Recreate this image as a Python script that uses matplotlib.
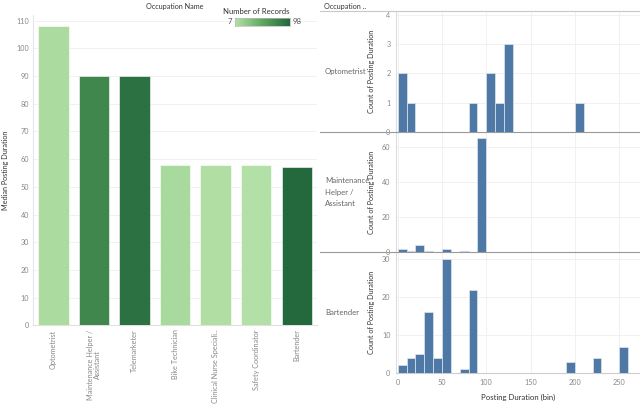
import matplotlib.pyplot as plt
from matplotlib.colors import LinearSegmentedColormap, Normalize
import numpy as np

# left chart: median posting duration by occupation
occupations = ['Optometrist', 'Maintenance Helper /\nAssistant', 'Telemarketer',
               'Bike Technician', 'Clinical Nurse Speciali..', 'Safety Coordinator',
               'Bartender']
median_duration = [108, 90, 90, 58, 58, 58, 57]
num_records = [11, 76, 92, 13, 9, 7, 98]

# right chart: histogram of posting duration (bins of 10)
bin_width = 10
panel_names = ['Optometrist', 'Maintenance\nHelper /\nAssistant', 'Bartender']
opt_bins = [0, 10, 80, 100, 110, 120, 200]
opt_counts = [2, 1, 1, 2, 1, 3, 1]
maint_bins = [0, 10, 20, 30, 50, 70, 90]
maint_counts = [2, 1, 4, 1, 2, 1, 65]
bart_bins = [0, 10, 20, 30, 40, 50, 70, 80, 190, 220, 250]
bart_counts = [2, 4, 5, 16, 4, 30, 1, 22, 3, 4, 7]

W, H = 640, 404
plt.rcParams['font.family'] = ['Lato', 'DejaVu Sans']
fig = plt.figure(figsize=(6.4, 4.04), dpi=100)

def px_axes(x0, y0, x1, y1):
    return fig.add_axes([x0 / W, 1 - y1 / H, (x1 - x0) / W, (y1 - y0) / H])

tick_col = '#888888'
title_col = '#333333'
grid_col = '#efefef'
fs = 5.2

cmap = LinearSegmentedColormap.from_list('tgreen', ['#b3e0a6', '#5fa85f', '#24693d'])
norm = Normalize(7, 98)

# ---- left bar chart
ax = px_axes(33, 15, 317, 325.4)
x = np.arange(len(occupations))
ax.bar(x, median_duration, width=0.75, color=[cmap(norm(v)) for v in num_records],
       edgecolor='white', linewidth=0.4, zorder=3)
ax.set_xlim(-0.5, len(occupations) - 0.5)
ax.set_ylim(0, 112)
ax.set_yticks(range(0, 111, 10))
ax.set_xticks(x)
ax.set_xticklabels(occupations, rotation=90, va='top', ha='center', fontsize=fs,
                   color=tick_col, linespacing=1.1)
ax.tick_params(axis='y', labelsize=fs, colors=tick_col, length=0, pad=3)
ax.tick_params(axis='x', length=0, pad=3)
ax.yaxis.grid(True, color=grid_col, linewidth=0.6, zorder=0)
for s in ['top', 'right']:
    ax.spines[s].set_visible(False)
ax.spines['left'].set_color('#e6e6e6')
ax.spines['bottom'].set_color('#e0e0e0')
ax.set_ylabel('Median Posting Duration', fontsize=fs, color=title_col)
ax.yaxis.set_label_coords((9 - 33) / 284, 0.5)

fig.text(175 / W, 1 - 6 / H, 'Occupation Name', fontsize=fs, color=title_col,
         ha='center', va='center')
fig.text(256 / W, 1 - 11 / H, 'Number of Records', fontsize=5.6, color=title_col,
         ha='center', va='center')
cax = px_axes(235, 18, 290, 26)
cax.imshow(np.linspace(0, 1, 100)[None, :], aspect='auto', cmap=cmap)
cax.set_xticks([])
cax.set_yticks([])
for s in cax.spines.values():
    s.set_color('#bbbbbb')
    s.set_linewidth(0.5)
fig.text(232 / W, 1 - 21.5 / H, '7', fontsize=5.6, color='#555555', ha='right', va='center')
fig.text(293 / W, 1 - 21.5 / H, '98', fontsize=5.6, color='#555555', ha='left', va='center')

# ---- right histogram panels
panels = [
    (11, 131.7, opt_bins, opt_counts, 4.14, [0, 1, 2, 3, 4]),
    (131.7, 252.3, maint_bins, maint_counts, 68.6, [0, 20, 40, 60]),
    (252.3, 373, bart_bins, bart_counts, 31.9, [0, 10, 20, 30]),
]
for i, (top, bottom, bins, counts, ymax, yt) in enumerate(panels):
    hx = px_axes(396, top, 640, bottom)
    hx.bar(bins, counts, width=bin_width, align='edge', color='#4e79a7',
           edgecolor='#dfe6ee', linewidth=0.5, zorder=3)
    hx.set_xlim(-1.9, 273.5)
    hx.set_ylim(0, ymax)
    hx.set_yticks(yt)
    hx.set_xticks(range(0, 251, 50))
    hx.grid(True, color=grid_col, linewidth=0.6, zorder=0)
    hx.tick_params(labelsize=fs, colors=tick_col, length=0, pad=4)
    for s in ['top', 'right']:
        hx.spines[s].set_visible(False)
    hx.spines['left'].set_color('#dddddd')
    hx.spines['bottom'].set_visible(False)
    hx.set_ylabel('Count of Posting Duration', fontsize=fs, color=title_col)
    hx.yaxis.set_label_coords((375 - 396) / 244, 0.5)
    if i < 2:
        hx.set_xticklabels([])
    else:
        hx.set_xlabel('Posting Duration (bin)', fontsize=5.6, color=title_col, labelpad=6)
        hx.spines['bottom'].set_visible(True)
        hx.spines['bottom'].set_color('#cccccc')
    fig.text(325 / W, 1 - (top + bottom) / 2 / H, panel_names[i], fontsize=5.6,
             color='#666666', ha='left', va='center', linespacing=1.7)

# row dividers and header
for yy in [11, 131.7, 252.3]:
    fig.add_artist(plt.Line2D([320 / W, 1], [1 - yy / H, 1 - yy / H],
                              color='#c8c8c8' if yy == 11 else '#999999', linewidth=0.8))
fig.text(324 / W, 1 - 6 / H, 'Occupation ..', fontsize=fs, color=title_col,
         ha='left', va='center')

fig.savefig('out.png', dpi=100)
